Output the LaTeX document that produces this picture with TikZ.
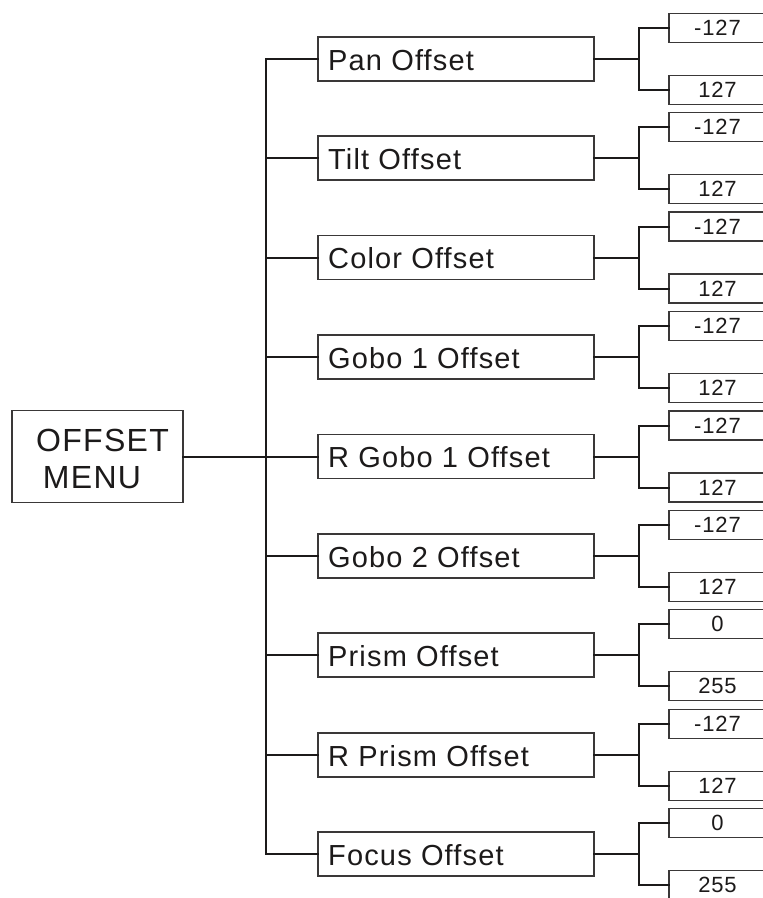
\documentclass[tikz,border=0pt]{standalone}
\usepackage{fontspec}
\setmainfont{Liberation Sans}[LetterSpace=4]
\definecolor{inkcol}{HTML}{1C1A1A}
\definecolor{boxcol}{HTML}{3A3838}
\begin{document}
\begin{tikzpicture}[x=1pt,y=-1pt,
  mbox/.style={draw=boxcol, line width=1.3pt, minimum width=276pt, minimum height=44pt, inner sep=0pt, outer sep=0pt},
  rbox/.style={draw=boxcol, line width=1.3pt, minimum width=171pt, minimum height=92pt, inner sep=0pt, outer sep=0pt},
  sbox/.style={draw=boxcol, line width=1.3pt, minimum width=97pt, minimum height=29pt, inner sep=0pt, outer sep=0pt, text=inkcol, font=\fontsize{22}{22}\selectfont},
  mtext/.style={anchor=base west, inner sep=0pt, text=inkcol, font=\fontsize{29}{29}\selectfont},
  rtext/.style={anchor=base, inner sep=0pt, text=inkcol, font=\fontsize{32}{32}\selectfont},
  conn/.style={draw=inkcol, line width=2pt, line cap=rect}
]
\useasboundingbox (0,0) rectangle (763,898);
\clip (0,0) rectangle (763,898);
\fill[white] (0,0) rectangle (763,898);

\node[rbox] (root) at (97.5,456.5) {};
\node[rtext] (rt1) at (102.5,451) {OFFSET};
\node[rtext] (rt2) at (92,488) {MENU};

\coordinate (trunk) at (266,0);

\foreach \i/\c/\t/\u/\l in {1/59/Pan Offset/-127/127, 2/158/Tilt Offset/-127/127, 3/257.5/Color Offset/-127/127, 4/357/Gobo 1 Offset/-127/127, 5/456.5/R Gobo 1 Offset/-127/127, 6/556/Gobo 2 Offset/-127/127, 7/655/Prism Offset/0/255, 8/755/R Prism Offset/-127/127, 9/854/Focus Offset/0/255}{
  \node[mbox] (m\i) at (456,\c) {};
  \node[mtext] (mt\i) at (328,\c+11) {\t};
  \node[sbox] (a\i) at (717.5,\c-31) {\u};
  \node[sbox] (b\i) at (717.5,\c+31) {\l};
  \draw[conn] (m\i.west) -- (m\i.west -| trunk);
  \draw[conn] (m\i.east) -- ++(45,0) coordinate (f\i);
  \draw[conn] (a\i.west) -| (f\i) |- (b\i.west);
}

\draw[conn] (m1.west -| trunk) -- (m9.west -| trunk);
\draw[conn] (root.east) -- (root.east -| trunk);
\end{tikzpicture}
\end{document}
